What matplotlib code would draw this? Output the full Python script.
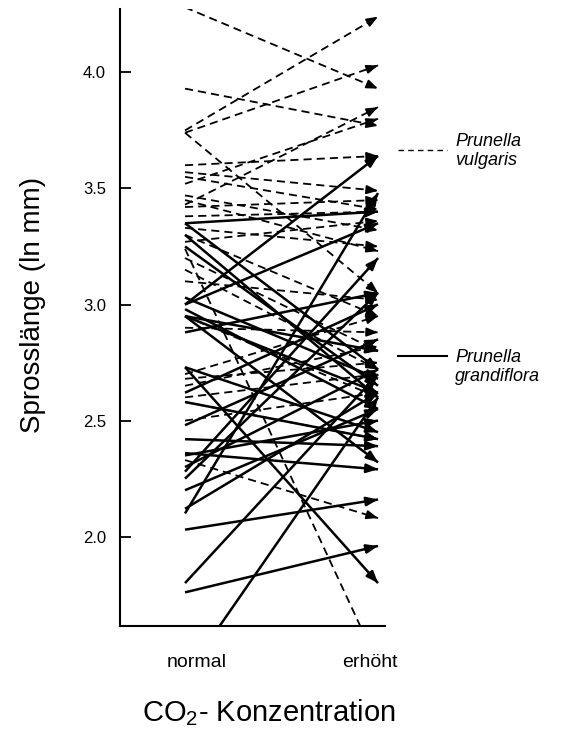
import matplotlib
matplotlib.use("Agg")
import matplotlib.pyplot as plt

plt.rcParams['font.family'] = ['Liberation Sans', 'DejaVu Sans']
plt.rcParams['mathtext.fontset'] = 'custom'
plt.rcParams['mathtext.rm'] = 'Liberation Sans'

# Prunella vulgaris (gestrichelt): Werte bei normal / erhöht CO2
vulg_normal = [4.28, 3.75, 3.93, 3.74, 3.74, 3.43, 3.60, 3.57, 3.55, 3.47,
               3.45, 3.42, 3.38, 3.33, 3.30, 3.27, 3.24, 3.20, 3.15, 3.10,
               2.95, 2.90, 2.70, 2.68, 2.65, 2.60, 2.33, 2.58, 2.50, 3.52]
vulg_erhoeht = [3.93, 4.24, 3.77, 4.03, 3.05, 3.85, 3.64, 3.49, 3.41, 3.32,
                3.23, 3.45, 3.40, 3.25, 2.95, 3.36, 1.45, 2.80, 2.72, 3.02,
                2.60, 2.88, 2.95, 2.75, 2.82, 2.70, 2.08, 2.42, 2.62, 3.80]

# Prunella grandiflora (durchgezogen)
grand_normal = [3.35, 3.35, 3.30, 3.25, 3.03, 3.00, 2.98, 2.95, 2.95, 2.88,
                2.73, 2.73, 2.62, 2.58, 2.48, 2.42, 2.36, 2.35, 2.30, 2.25,
                3.00, 2.20, 2.12, 2.03, 1.80, 1.76, 1.40, 2.10, 2.28, 2.95]
grand_erhoeht = [3.40, 2.72, 2.60, 2.65, 2.68, 3.35, 2.55, 2.80, 2.62, 3.05,
                 1.80, 2.45, 3.00, 2.42, 2.85, 2.39, 2.29, 2.50, 2.72, 3.05,
                 3.64, 2.55, 2.62, 2.16, 2.70, 1.96, 2.60, 3.48, 3.20, 2.32]

x_labels = ["normal", "erhöht"]
y_min, y_max = 1.615, 4.273

fig = plt.figure(figsize=(5.67, 7.31), dpi=100)
ax = fig.add_axes([0.2116, 0.1436, 0.4674, 0.8441])


def draw(normal, erhoeht, ls, lw):
    for l, r in zip(normal, erhoeht):
        ax.plot([0, 1], [l, r], color="black", lw=lw, ls=ls,
                solid_capstyle="butt")
        if r > y_min:
            d = 0.05
            ax.annotate("", xy=(1, r), xytext=(1 - d, r - d * (r - l)),
                        arrowprops=dict(arrowstyle="-|>,head_length=0.9,head_width=0.35",
                                        color="black", lw=lw, shrinkA=0, shrinkB=0,
                                        mutation_scale=7.5))


draw(vulg_normal, vulg_erhoeht, (0, (4.5, 2.8)), 1.3)
draw(grand_normal, grand_erhoeht, "-", 1.8)

ax.set_xlim(-0.337, 1.036)
ax.set_ylim(y_min, y_max)
ax.spines[["top", "right"]].set_visible(False)
ax.spines[["left", "bottom"]].set_linewidth(1.5)

ax.set_yticks([2.0, 2.5, 3.0, 3.5, 4.0])
ax.set_yticklabels(["2.0", "2.5", "3.0", "3.5", "4.0"])
ax.tick_params(axis="y", direction="in", length=8, width=1.3, labelsize=12, pad=10)
ax.set_xticks([0.06, 0.96])
ax.set_xticklabels(x_labels)
ax.tick_params(axis="x", length=0, labelsize=14, pad=20)

ax.set_ylabel("Sprosslänge (ln mm)", fontsize=20)
ax.set_xlabel(r"CO$_\mathregular{2}$- Konzentration", fontsize=21)
ax.yaxis.set_label_coords(-0.28, 0.52)
ax.xaxis.set_label_coords(0.56, -0.115)

# Legende rechts neben den Pfeilen
fig.add_artist(plt.Line2D([398 / 567, 447 / 567], [1 - 150 / 731] * 2,
                          color="black", lw=1.0, ls=(0, (4, 3))))
fig.text(455 / 567, 1 - 151 / 731, "Prunella\nvulgaris", style="italic",
         fontsize=13, va="center", ha="left", linespacing=1.15)
fig.add_artist(plt.Line2D([398 / 567, 447 / 567], [1 - 356 / 731] * 2,
                          color="black", lw=1.5))
fig.text(455 / 567, 1 - 367 / 731, "Prunella\ngrandiflora", style="italic",
         fontsize=13, va="center", ha="left", linespacing=1.15)

fig.savefig("out.png", dpi=100)
